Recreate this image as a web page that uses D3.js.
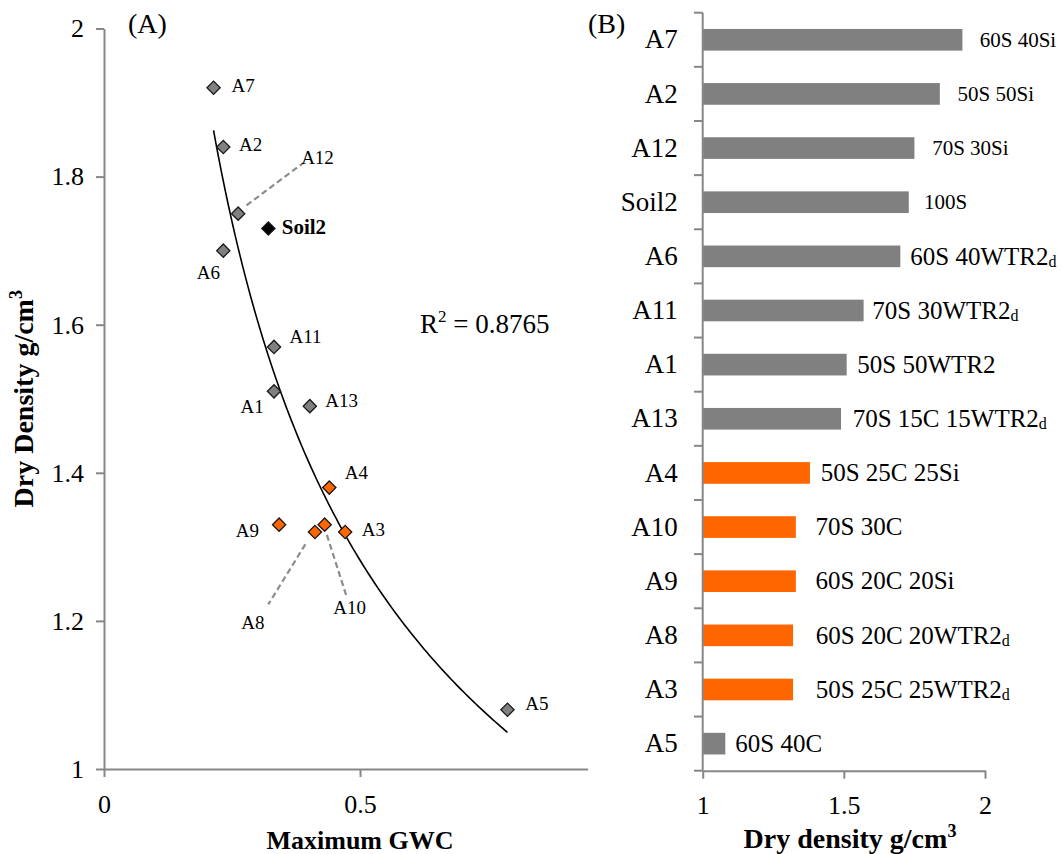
<!DOCTYPE html>
<html><head><meta charset="utf-8">
<script src="https://cdn.jsdelivr.net/npm/d3@7"></script>
<style>
body{margin:0;background:#fff}
svg{display:block}
text{font-family:"Liberation Serif","Times New Roman",serif;fill:#000}
</style>
</head><body>
<svg id="c" width="1061" height="854"></svg>
<script>
// ---------- Panel A data ----------
const pointNames = ["A7","A2","A12","Soil2","A6","A11","A1","A13","A4","A9","A8","A10","A3","A5"];
const gwc        = [0.214,0.233,0.262,0.321,0.233,0.332,0.332,0.402,0.440,0.342,0.412,0.431,0.471,0.788];
const densityA   = [1.92,1.84,1.75,1.73,1.70,1.57,1.51,1.49,1.38,1.33,1.32,1.33,1.32,1.08];
const pointGroup = ["grey","grey","grey","soil","grey","grey","grey","grey","orange","orange","orange","orange","orange","grey"];
const trendCoef  = [0.945,-0.44];   // power trendline y = a*x^b
const rSquared   = "0.8765";
const xTicksA    = [0,0.5];
const yTicksA    = [1,1.2,1.4,1.6,1.8,2];

// ---------- Panel B data ----------
const barNames  = ["A7","A2","A12","Soil2","A6","A11","A1","A13","A4","A10","A9","A8","A3","A5"];
const barValues = [1.92,1.84,1.75,1.73,1.70,1.57,1.51,1.49,1.38,1.33,1.33,1.32,1.32,1.08];
const barGroup  = ["grey","grey","grey","grey","grey","grey","grey","grey","orange","orange","orange","orange","orange","grey"];
const barMix    = ["60S 40Si","50S 50Si","70S 30Si","100S","60S 40WTR2","70S 30WTR2","50S 50WTR2","70S 15C 15WTR2","50S 25C 25Si","70S 30C","60S 20C 20Si","60S 20C 20WTR2","50S 25C 25WTR2","60S 40C"];
const barMixSub = ["","","","","d","d","","d","","","","d","d",""];
const xTicksB   = [1,1.5,2];

// ---------- annotation layout (hand placed in the original) ----------
const labelOffsetA = [[17.9,4.4],[15.8,3.7],[63,-50],[13.4,6],[-26.5,28.6],[15.5,-4],[-33.4,21.6],[15.5,1],[15.5,-8.4],[-43.3,12.6],[-73.6,97.3],[8.5,89.6],[16.6,3.7],[17.7,0.7]];
const leaderA = {"A12":[[8.4,-8.3],[65,-50.6]],"A8":[[-9.6,12.3],[-46.6,72.3]],"A10":[[2.2,10.3],[21.4,70.3]]};
const barLabelGap = [17.3,17.7,17.7,15.3,10,8.7,10.7,11.7,10.7,19.7,19.7,22.7,22.7,10];

const colors = {grey:"#808080", orange:"#ff6600", soil:"#000000"};
const axisCol = "#878787";
const serif = '"Liberation Serif","Times New Roman",serif';

const svg = d3.select("#c");

// ================= Panel A =================
const xA = d3.scaleLinear().domain([0,0.9447]).range([104,587.7]);
const yA = d3.scaleLinear().domain([1,2]).range([769,28.5]);
const gA = svg.append("g");

const yAxisA = gA.append("g").attr("transform",`translate(${xA(0)},0)`)
  .call(d3.axisLeft(yA).tickValues(yTicksA).tickSize(8).tickSizeOuter(0).tickPadding(12)
        .tickFormat(d=>String(+d.toFixed(1))));
const xAxisA = gA.append("g").attr("transform",`translate(0,${yA(1)})`)
  .call(d3.axisBottom(xA).tickValues(xTicksA).tickSize(8).tickSizeOuter(0).tickPadding(18)
        .tickFormat(d=>String(d)));
[yAxisA,xAxisA].forEach(a=>{
  a.selectAll("path,line").attr("stroke",axisCol).attr("stroke-width",2);
  a.selectAll("text").style("font-size","26px").style("font-family",serif).attr("fill","#000");
});

// trendline
const xr = d3.extent(gwc);
const trendX = d3.range(xr[0], xr[1]+1e-9, (xr[1]-xr[0])/120);
const trend = x => trendCoef[0]*Math.pow(x,trendCoef[1]);
gA.append("path")
  .attr("d", d3.line().x(d=>xA(d)).y(d=>yA(trend(d)))(trendX))
  .attr("fill","none").attr("stroke","#000").attr("stroke-width",1.6);

// leader lines
pointNames.forEach((n,i)=>{
  if(!leaderA[n]) return;
  const px=xA(gwc[i]), py=yA(densityA[i]);
  const [a,b]=leaderA[n];
  gA.append("line").attr("x1",px+a[0]).attr("y1",py+a[1]).attr("x2",px+b[0]).attr("y2",py+b[1])
    .attr("stroke","#8c8c8c").attr("stroke-width",2.2).attr("stroke-dasharray","6,3.5");
});

// markers + labels
const diamond = d3.symbol().type(d3.symbolSquare).size(88);
pointNames.forEach((n,i)=>{
  const px=xA(gwc[i]), py=yA(densityA[i]);
  gA.append("path").attr("d",diamond())
    .attr("transform",`translate(${px},${py}) rotate(45)`)
    .attr("fill",colors[pointGroup[i]]).attr("stroke","#1a1a1a").attr("stroke-width",1.3);
  const t = gA.append("text").attr("x",px+labelOffsetA[i][0]).attr("y",py+labelOffsetA[i][1]).text(n);
  if(n==="Soil2") t.style("font-size","21px").style("font-weight","bold");
  else t.style("font-size","19px");
});

// R^2
const rt = gA.append("text").attr("x",420).attr("y",333).style("font-size","27px");
rt.append("tspan").text("R");
rt.append("tspan").attr("dy",-11).style("font-size","17px").text("2");
rt.append("tspan").attr("dy",11).text(" = " + rSquared);

// titles
gA.append("text").attr("transform",`translate(33,${(yA(1)+yA(2))/2}) rotate(-90)`)
  .attr("text-anchor","middle").style("font-size","28px").style("font-weight","bold")
  .call(t=>{t.append("tspan").text("Dry Density g/cm"); t.append("tspan").attr("dy",-11).style("font-size","18px").text("3");});
gA.append("text").attr("x",xA(0.5)).attr("y",849).attr("text-anchor","middle")
  .style("font-size","26px").style("font-weight","bold").text("Maximum GWC");
gA.append("text").attr("x",128).attr("y",33).style("font-size","28px").text("(A)");

// ================= Panel B =================
const xB = d3.scaleLinear().domain([1,2]).range([702.7,985]);
const yB = d3.scaleBand().domain(barNames).range([12.7,770.7]).paddingInner(0.6).paddingOuter(0.3);
const gB = svg.append("g");

barNames.forEach((n,i)=>{
  gB.append("rect").attr("x",xB(1)).attr("y",yB(n))
    .attr("width",xB(barValues[i])-xB(1)).attr("height",yB.bandwidth())
    .attr("fill",colors[barGroup[i]]);
});

const yAxisB = gB.append("g").attr("transform",`translate(${xB(1)},0)`)
  .call(d3.axisLeft(yB).tickSize(0).tickSizeOuter(0).tickPadding(25));
yAxisB.select(".domain").remove();
yAxisB.selectAll("text").style("font-size","27px").style("font-family",serif).attr("fill","#000");
const step = yB.step();
const y0 = yB.range()[0];
d3.range(barNames.length+1).forEach(k=>{
  gB.append("line").attr("x1",xB(1)-8.7).attr("x2",xB(1)).attr("y1",y0+k*step).attr("y2",y0+k*step)
    .attr("stroke",axisCol).attr("stroke-width",2);
});
gB.append("line").attr("x1",xB(1)).attr("x2",xB(1)).attr("y1",y0).attr("y2",yB.range()[1])
  .attr("stroke",axisCol).attr("stroke-width",2);

const xAxisB = gB.append("g").attr("transform",`translate(0,${yB.range()[1]})`)
  .call(d3.axisBottom(xB).tickValues(xTicksB).tickSize(8).tickSizeOuter(0).tickPadding(17)
        .tickFormat(d=>String(d)));
xAxisB.selectAll("path,line").attr("stroke",axisCol).attr("stroke-width",2);
xAxisB.selectAll("text").style("font-size","26px").style("font-family",serif).attr("fill","#000");

barNames.forEach((n,i)=>{
  const fs = i<4 ? 21 : 25;
  const t = gB.append("text").attr("x",xB(barValues[i])+barLabelGap[i])
    .attr("y",yB(n)+yB.bandwidth()/2+fs*0.33).style("font-size",fs+"px");
  t.append("tspan").text(barMix[i]);
  if(barMixSub[i]) t.append("tspan").attr("dy",2).style("font-size","16px").text(barMixSub[i]);
});

gB.append("text").attr("x",850).attr("y",848).attr("text-anchor","middle")
  .style("font-size","28px").style("font-weight","bold")
  .call(t=>{t.append("tspan").text("Dry density g/cm"); t.append("tspan").attr("dy",-11).style("font-size","18px").text("3");});
gB.append("text").attr("x",588).attr("y",33).style("font-size","28px").text("(B)");
</script>
</body></html>
